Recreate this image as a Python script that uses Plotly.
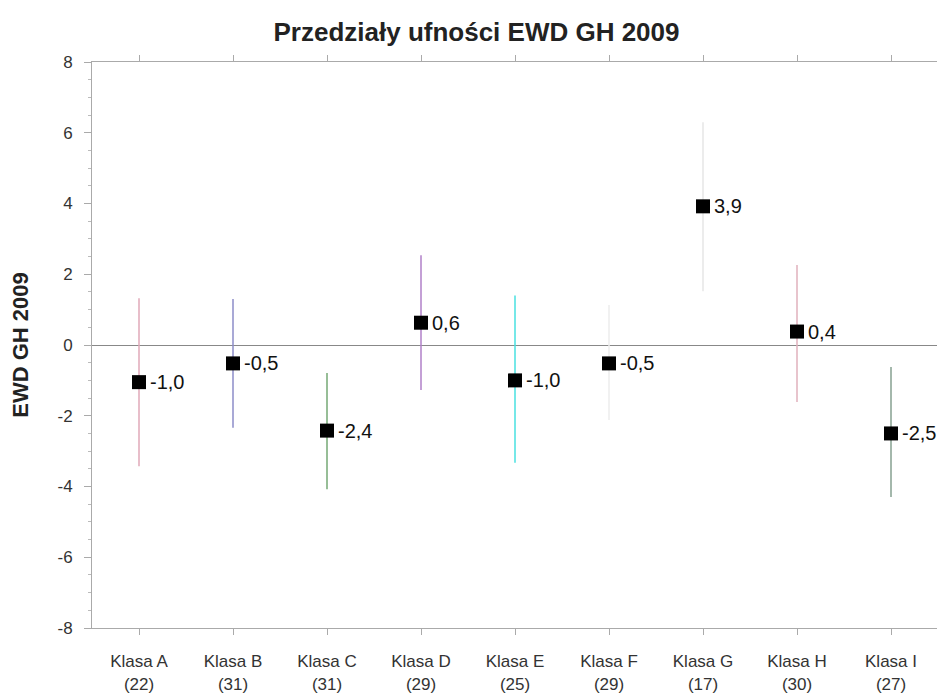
import plotly.graph_objects as go

categories = ["Klasa A<br>(22)", "Klasa B<br>(31)", "Klasa C<br>(31)", "Klasa D<br>(29)",
              "Klasa E<br>(25)", "Klasa F<br>(29)", "Klasa G<br>(17)", "Klasa H<br>(30)", "Klasa I<br>(27)"]
means = [-1.05, -0.52, -2.42, 0.63, -1.0, -0.52, 3.92, 0.38, -2.5]
upper = [1.32, 1.30, -0.79, 2.54, 1.40, 1.13, 6.30, 2.26, -0.62]
lower = [-3.43, -2.34, -4.08, -1.27, -3.33, -2.12, 1.52, -1.61, -4.30]
labels = ["-1,0", "-0,5", "-2,4", "0,6", "-1,0", "-0,5", "3,9", "0,4", "-2,5"]
ytick_vals = [-8, -6, -4, -2, 0, 2, 4, 6, 8]
ytick_text = ["-8", "-6", "-4", "-2", "0", "2", "4", "6", "8"]
colors = ["#e0a8b8", "#8c8cc8", "#74a874", "#b080c8", "#48e0e0", "#ececec", "#e6e6e6", "#e0b0bc", "#86a090"]

FONT = "Liberation Sans, Arial"

fig = go.Figure()
for i, c in enumerate(categories):
    fig.add_trace(go.Scatter(
        x=[i], y=[means[i]], mode="markers",
        marker=dict(symbol="square", size=14, color="black"),
        error_y=dict(type="data", symmetric=False,
                     array=[upper[i] - means[i]], arrayminus=[means[i] - lower[i]],
                     color=colors[i], thickness=1.5, width=0),
        showlegend=False, hoverinfo="skip"))
    fig.add_annotation(x=i, y=means[i], text=labels[i], showarrow=False,
                       xanchor="left", yanchor="middle", xshift=9,
                       font=dict(size=20, color="#111", family=FONT),
                       bgcolor="white", borderpad=1)

fig.update_layout(
    width=937, height=685,
    margin=dict(l=84, r=7, t=54, b=65, autoexpand=False),
    paper_bgcolor="white", plot_bgcolor="white",
    font=dict(family=FONT, color="#333"),
    title=dict(text="<b>Przedziały ufności EWD GH 2009</b>", x=0.5, xanchor="center",
               y=0.965, yanchor="middle", font=dict(size=26, color="#222")),
)
fig.update_xaxes(
    range=[-0.5, 8.5], tickmode="array", tickvals=list(range(len(categories))),
    ticktext=categories, tickfont=dict(size=17, color="#333"), ticklabelstandoff=12,
    showline=True, linecolor="#aaa", linewidth=1, mirror="allticks",
    ticks="outside", ticklen=6, tickcolor="#aaa", showgrid=False, zeroline=False,
    automargin=False,
)
fig.update_yaxes(
    range=[-8, 8], tickmode="array", tickvals=ytick_vals, ticktext=ytick_text,
    tickfont=dict(size=17, color="#333"), ticklabelstandoff=8,
    title=dict(text="<b>EWD GH 2009</b>", font=dict(size=22, color="#222"), standoff=22),
    showline=True, linecolor="#aaa", linewidth=1, mirror="allticks",
    ticks="outside", ticklen=7, tickcolor="#aaa", showgrid=False,
    zeroline=True, zerolinecolor="#888", zerolinewidth=1,
    minor=dict(dtick=0.5, ticks="outside", ticklen=3, tickcolor="#bbb"),
    automargin=False,
)

fig.write_html("out.html", config={"displayModeBar": False})
